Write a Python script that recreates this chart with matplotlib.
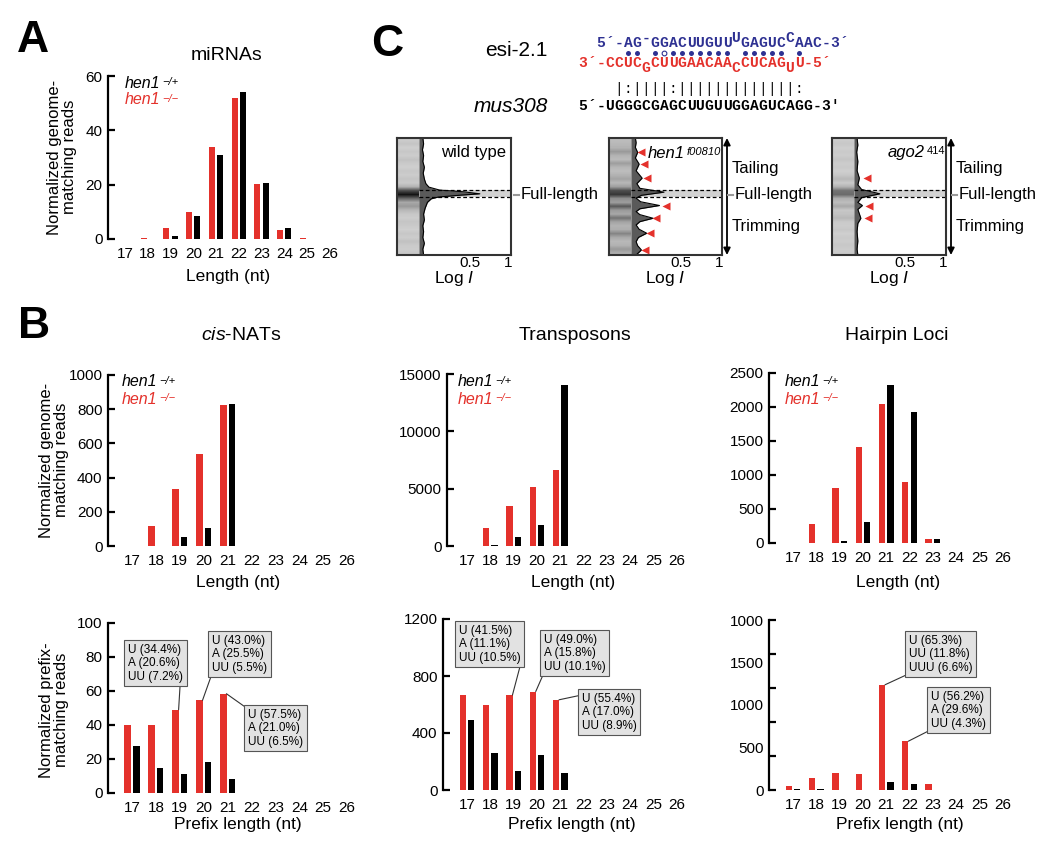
import matplotlib
matplotlib.use('Agg')
import matplotlib.pyplot as plt
import numpy as np

plt.rcParams['font.family'] = ['Liberation Sans', 'DejaVu Sans']
plt.rcParams['mathtext.fontset'] = 'custom'
plt.rcParams['mathtext.rm'] = 'Liberation Sans'
plt.rcParams['mathtext.it'] = 'Liberation Sans:italic'
plt.rcParams['mathtext.bf'] = 'Liberation Sans:bold'

RED = '#e4312b'
BLUE = '#2e3192'

# ---------------- data ----------------
lengths = np.arange(17, 27)
length_labels = [str(n) for n in lengths]

# A: miRNAs (hen1 -/+ black, hen1 -/- red)
mirna_het = [0, 0, 1.2, 8.3, 31, 54.2, 20.7, 4.0, 0, 0]
mirna_mut = [0, 0.5, 4.0, 9.8, 34, 52, 20.3, 3.4, 0.4, 0]

# B top: genome-matching reads
nat_het = [0, 0, 55, 107, 828, 0, 0, 0, 0, 0]
nat_mut = [0, 117, 333, 538, 825, 0, 0, 0, 0, 0]
tn_het = [0, 50, 786, 1864, 14070, 0, 0, 0, 0, 0]
tn_mut = [0, 1600, 3520, 5180, 6640, 0, 0, 0, 0, 0]
hp_het = [0, 0, 25, 305, 2322, 1924, 64, 0, 0, 0]
hp_mut = [0, 276, 812, 1417, 2037, 900, 64, 0, 0, 0]

# B bottom: prefix-matching reads
nat_pre_het = [27.5, 14.9, 11, 18.4, 8.4, 0, 0, 0, 0, 0]
nat_pre_mut = [39.8, 40.2, 49, 54.5, 58.4, 0, 0, 0, 0, 0]
tn_pre_het = [488, 258, 136, 244, 117, 0, 0, 0, 0, 0]
tn_pre_mut = [666, 593, 666, 691, 633, 0, 0, 0, 0, 0]
hp_pre_het = [8, 8, 0, 0, 94, 70, 0, 0, 0, 0]
hp_pre_mut = [47, 137, 203, 184, 1238, 574, 70, 0, 0, 0]
hp_pre_ylabels = ['0', '500', '1000', '1500', '1000']

nat_notes = [(19, 'U (34.4%)\nA (20.6%)\nUU (7.2%)'),
             (20, 'U (43.0%)\nA (25.5%)\nUU (5.5%)'),
             (21, 'U (57.5%)\nA (21.0%)\nUU (6.5%)')]
tn_notes = [(19, 'U (41.5%)\nA (11.1%)\nUU (10.5%)'),
            (20, 'U (49.0%)\nA (15.8%)\nUU (10.1%)'),
            (21, 'U (55.4%)\nA (17.0%)\nUU (8.9%)')]
hp_notes = [(21, 'U (65.3%)\nUU (11.8%)\nUUU (6.6%)'),
            (22, 'U (56.2%)\nA (29.6%)\nUU (4.3%)')]

# C: sequences (^ raised, _ lowered)
esi_seq = "5´-AG^-GGACUUGUU^UGAGUC^CAAC-3´"
esi_star = "3´-CCUC_GCUUGAACAA_CCUCAG_UU-5´"
mus_seq = "5´-UGGGCGAGCUUGUUGGAGUCAGG-3′"
esi_pairs = "   ** *o******* ***** *"   # * pair, o G:U wobble
mus_pairs = "    |:||||:|||||||||||||:"

# C: gel lanes (0 = top of lane, 1 = bottom)
wt_gel = [0.80, 0.77, 0.81, 0.78, 0.80, 0.76, 0.79, 0.81, 0.78, 0.80, 0.77, 0.79, 0.70, 0.30, 0.08,
          0.40, 0.66, 0.60, 0.72, 0.78, 0.80, 0.77, 0.79, 0.81, 0.78, 0.80, 0.76, 0.79, 0.80, 0.78]
hen1_gel = [0.74, 0.72, 0.70, 0.60, 0.70, 0.73, 0.62, 0.71, 0.74, 0.70, 0.64, 0.72, 0.62, 0.30, 0.22,
            0.55, 0.62, 0.35, 0.60, 0.66, 0.45, 0.64, 0.70, 0.68, 0.52, 0.66, 0.72, 0.70, 0.60, 0.68]
ago2_gel = [0.80, 0.78, 0.81, 0.79, 0.80, 0.77, 0.80, 0.79, 0.81, 0.78, 0.72, 0.79, 0.70, 0.45, 0.42,
            0.68, 0.74, 0.66, 0.78, 0.76, 0.72, 0.79, 0.80, 0.78, 0.81, 0.79, 0.80, 0.78, 0.80, 0.79]

wt_y = [0.0, 0.05, 0.1, 0.15, 0.2, 0.25, 0.3, 0.35, 0.39, 0.42, 0.445, 0.46, 0.477, 0.49, 0.505, 0.52,
        0.55, 0.6, 0.65, 0.7, 0.75, 0.8, 0.85, 0.9, 0.95, 1.0]
wt_x = [-0.12, -0.11, -0.125, -0.11, -0.12, -0.1, -0.115, -0.1, -0.08, -0.04, 0.1, 0.42, 0.63, 0.35, 0.08,
        -0.01, -0.06, -0.09, -0.11, -0.1, -0.12, -0.11, -0.12, -0.1, -0.12, -0.11]
hen1_y = [0.0, 0.04, 0.08, 0.123, 0.17, 0.223, 0.28, 0.343, 0.39, 0.43, 0.463, 0.49, 0.514, 0.545, 0.577,
          0.605, 0.629, 0.655, 0.686, 0.715, 0.743, 0.78, 0.814, 0.85, 0.886, 0.92, 0.957, 1.0]
hen1_x = [-0.11, -0.1, -0.11, -0.08, -0.11, -0.06, -0.1, -0.02, -0.09, -0.05, 0.27, -0.03, -0.1, -0.04, 0.21,
          -0.05, -0.1, -0.05, 0.125, -0.05, -0.1, -0.06, 0.04, -0.07, -0.1, -0.08, -0.03, -0.1]
ago2_y = [0.0, 0.06, 0.12, 0.2, 0.28, 0.343, 0.4, 0.44, 0.477, 0.51, 0.55, 0.577, 0.61, 0.686, 0.73, 0.8,
          0.88, 0.95, 1.0]
ago2_x = [-0.13, -0.12, -0.135, -0.12, -0.13, -0.1, -0.12, -0.07, 0.17, -0.07, -0.12, -0.06, -0.12, -0.08,
          -0.12, -0.13, -0.12, -0.13, -0.12]
hen1_tri_x = [-0.03, 0.0, 0.05, 0.3, 0.17, 0.09, 0.02]
hen1_tri_y = [0.123, 0.223, 0.343, 0.577, 0.686, 0.814, 0.957]
ago2_tri_x = [0.0, 0.03, 0.02]
ago2_tri_y = [0.343, 0.577, 0.686]
full_length_band = [0.443, 0.506]

# ---------------- layout ----------------
W, H = 1050, 844
fig = plt.figure(figsize=(W / 100, H / 100), dpi=100)


def rect(x0, y0, x1, y1):
    return [x0 / W, 1 - y1 / H, (x1 - x0) / W, (y1 - y0) / H]


def put(x, y, s, **kw):
    return fig.text(x / W, 1 - y / H, s, **kw)


def with_sup(ax, x, y, base, sup, color='black', size=11.5, sup_size=8, sup_style='italic'):
    t = put(x, y, base, fontsize=size, style='italic', color=color, va='center')
    ax.annotate(sup, xy=(1, 1), xycoords=t, xytext=(1.2, -0.8), textcoords='offset points',
                fontsize=sup_size, style=sup_style, color=color, va='top', ha='left',
                annotation_clip=False)
    return t


def bar_panel(spine_x, top, bottom, x17, spacing, ymax, mut, het, yticks):
    left = 17 - (x17 - spine_x) / spacing
    span = 10.7
    ax = fig.add_axes(rect(spine_x, top, spine_x + span * spacing, bottom))
    ax.bar(lengths - 0.18, mut, width=0.27, color=RED)
    ax.bar(lengths + 0.18, het, width=0.27, color='black')
    ax.set_xlim(left, left + span)
    ax.set_ylim(0, ymax)
    ax.set_xticks(lengths, length_labels)
    ax.set_yticks(yticks)
    for s in ['top', 'right', 'bottom']:
        ax.spines[s].set_visible(False)
    ax.spines['left'].set_linewidth(1.6)
    ax.tick_params(axis='y', direction='in', length=5, width=1.6, labelsize=11, pad=4)
    ax.tick_params(axis='x', length=0, labelsize=11, pad=6)
    ax.patch.set_alpha(0)
    return ax


def legend(ax, x, y):
    with_sup(ax, x, y, 'hen1', '\u2212/+')
    with_sup(ax, x, y + 17, 'hen1', '\u2212/\u2212', color=RED)


def note(ax, n, value, text, bx, by, relpos):
    ax.annotate(text, xy=(n - 0.18 + 0.13, value), xycoords='data',
                xytext=(bx + 4, H - by - 4), textcoords='figure pixels',
                ha='left', va='top', fontsize=8.5, linespacing=1.15,
                bbox=dict(boxstyle='square,pad=0.3', fc='#e2e2e2', ec='#555555', lw=0.8),
                arrowprops=dict(arrowstyle='-', color='#333333', lw=0.8, relpos=relpos,
                                shrinkA=0, shrinkB=0))


# Panel A
axA = bar_panel(108, 76, 239, 125, 22.75, 60, mirna_mut, mirna_het, [0, 20, 40, 60])
legend(axA, 125, 83)
put(227, 55, 'miRNAs', fontsize=14, ha='center', va='center')
put(228, 277, 'Length (nt)', fontsize=12.5, ha='center', va='center')
put(62, 157, 'Normalized genome-\nmatching reads', fontsize=12, rotation=90,
    ha='center', va='center', linespacing=0.95)
put(33, 41, 'A', fontsize=32, fontweight='bold', ha='center', va='center')

# Panel B top
ax1 = bar_panel(108, 375, 546, 132, 23.9, 1000, nat_mut, nat_het, np.arange(0, 1001, 200))
ax2 = bar_panel(447, 374, 546, 467, 23.3, 15000, tn_mut, tn_het, [0, 5000, 10000, 15000])
ax3 = bar_panel(769, 373, 543, 793, 23.3, 2500, hp_mut, hp_het, np.arange(0, 2501, 500))
legend(ax1, 122, 382)
legend(ax2, 458, 382)
legend(ax3, 785, 382)
put(241, 335, r'$\mathit{cis}$-NATs', fontsize=14, ha='center', va='center')
put(575, 335, 'Transposons', fontsize=14, ha='center', va='center')
put(897, 335, 'Hairpin Loci', fontsize=14, ha='center', va='center')
for cx in [238, 573, 898]:
    put(cx, 583, 'Length (nt)', fontsize=12.5, ha='center', va='center')
put(54, 460, 'Normalized genome-\nmatching reads', fontsize=12, rotation=90,
    ha='center', va='center', linespacing=0.95)
put(34, 326, 'B', fontsize=32, fontweight='bold', ha='center', va='center')

# Panel B bottom
ax4 = bar_panel(108, 623, 793, 132, 23.9, 100, nat_pre_mut, nat_pre_het, np.arange(0, 101, 20))
ax5 = bar_panel(443, 619, 790, 467, 23.3, 1200, tn_pre_mut, tn_pre_het, [0, 400, 800, 1200])
ax6 = bar_panel(769, 620, 790, 793, 23.3, 2000, hp_pre_mut, hp_pre_het, np.arange(0, 2001, 400))
ax6.yaxis.remove_overlapping_locs = False
ax6.set_yticklabels([])
ax6.set_yticks([0, 500, 1000, 1500, 2000], hp_pre_ylabels, minor=True)
ax6.tick_params(axis='y', which='minor', length=0, labelsize=11, pad=4)
for cx in [238, 572, 900]:
    put(cx, 825, 'Prefix length (nt)', fontsize=12.5, ha='center', va='center')
put(54, 710, 'Normalized prefix-\nmatching reads', fontsize=12, rotation=90,
    ha='center', va='center', linespacing=0.95)

nat_boxes = [(124, 640, (0.95, 0)), (208, 631, (0, 0)), (244, 705, (0, 1))]
tn_boxes = [(455, 621, (1, 0)), (540, 630, (0, 0)), (578, 689, (0, 0.95))]
hp_boxes = [(905, 631, (0, 0)), (927, 687, (0, 0))]
for ax, notes, boxes, vals in [(ax4, nat_notes, nat_boxes, nat_pre_mut),
                               (ax5, tn_notes, tn_boxes, tn_pre_mut),
                               (ax6, hp_notes, hp_boxes, hp_pre_mut)]:
    for (n, txt), (bx, by, rp) in zip(notes, boxes):
        note(ax, n, vals[n - 17], txt, bx, by, rp)

# Panel C: sequences
put(387, 45, 'C', fontsize=32, fontweight='bold', ha='center', va='center')
put(548, 50, 'esi-2.1', fontsize=15, ha='right', va='center')
put(548, 106, 'mus308', fontsize=15, ha='right', va='center', style='italic')

CW = 9.0
X0 = 583


def draw_seq(marked, col0, y, color, weight='bold'):
    col, shift = col0, 0
    for ch in marked:
        if ch == '^':
            shift = 5
            continue
        if ch == '_':
            shift = -5
            continue
        put(X0 + col * CW, y - shift, ch, fontsize=10.5, color=color, ha='center', va='center',
            family=['Liberation Mono', 'DejaVu Sans Mono'], fontweight=weight)
        col += 1
        shift = 0


draw_seq(esi_seq, 2, 43, BLUE)
draw_seq(esi_star, 0, 63, RED)
draw_seq(mus_seq, 0, 106, 'black')
for i, ch in enumerate(mus_pairs):
    if ch != ' ':
        put(X0 + i * CW, 89, ch, fontsize=10.5, color='black', ha='center', va='center',
            family=['Liberation Mono', 'DejaVu Sans Mono'])

# base-pair dots between the esi-2.1 strands
ax_dots = fig.add_axes([0, 0, 1, 1], zorder=-1)
ax_dots.set_xlim(0, W)
ax_dots.set_ylim(H, 0)
ax_dots.axis('off')
cols = np.arange(len(esi_pairs)) + 2
pair_chars = np.array(list(esi_pairs))
ax_dots.plot(X0 + cols[pair_chars == '*'] * CW, np.full((pair_chars == '*').sum(), 53), 'o',
             ms=3.6, color=BLUE, mec='none')
ax_dots.plot(X0 + cols[pair_chars == 'o'] * CW, np.full((pair_chars == 'o').sum(), 53), 'o',
             ms=3.4, mfc='white', mec=BLUE, mew=0.8)

# Panel C: gel lanes
gel_x = [(397, 511), (609, 722), (832, 946)]
lanes = [wt_gel, hen1_gel, ago2_gel]
profiles = [(wt_x, wt_y), (hen1_x, hen1_y), (ago2_x, ago2_y)]
tris = [([], []), (hen1_tri_x, hen1_tri_y), (ago2_tri_x, ago2_tri_y)]
edge = -0.17
gel_axes = []
for k in range(3):
    x0, x1 = gel_x[k]
    ax = fig.add_axes(rect(x0, 138, x1, 255))
    gel_axes.append(ax)
    ax.set_xlim(-0.46, 1.04)
    ax.set_ylim(1, 0)
    ax.imshow(np.array(lanes[k])[:, None], extent=(-0.46, edge, 1, 0), cmap='gray',
              vmin=0, vmax=1, aspect='auto', interpolation='bilinear')
    ax.fill_between([edge, 1.04], full_length_band[0], full_length_band[1], color='#d2d2d2', lw=0)
    ax.hlines(full_length_band, edge, 1.04, colors='black', linestyles=(0, (3, 2)), lw=0.9)
    px, py = profiles[k]
    ax.fill_betweenx(py, edge, px, color='#5a5a5a', lw=0)
    ax.plot(px, py, color='black', lw=0.8)
    if tris[k][0]:
        ax.plot(tris[k][0], tris[k][1], '<', color=RED, ms=6, mec='none')
    ax.set_xticks([0.5, 1], ['0.5', '1'])
    ax.set_yticks([])
    ax.tick_params(axis='x', length=0, labelsize=11, pad=1)
    ax.set_xlabel(r'Log $\mathit{I}$', fontsize=12.5, labelpad=-1)
    for s in ax.spines.values():
        s.set_linewidth(1.5)
        s.set_color('#333333')
    # full-length marker outside the box
    gx = x1 + 6 if k == 0 else x1 + 9
    fig.add_artist(plt.Line2D([(gx - 3) / W, (gx + 2) / W], [1 - 195 / H, 1 - 195 / H],
                              color='#999999', lw=1.5))
    put(gx + 4, 195, 'Full-length', fontsize=12, va='center')
    if k > 0:
        ax.annotate('', xy=(x1 + 5, H - 138), xycoords='figure pixels',
                    xytext=(x1 + 5, H - 255), textcoords='figure pixels',
                    arrowprops=dict(arrowstyle='<|-|>', color='black', lw=1.3,
                                    mutation_scale=10, shrinkA=0, shrinkB=0))
        put(x1 + 10, 168, 'Tailing', fontsize=12, va='center')
        put(x1 + 10, 227, 'Trimming', fontsize=12, va='center')

put(506, 153, 'wild type', fontsize=12, ha='right', va='center')
with_sup(gel_axes[1], 648, 153, 'hen1', 'f00810', size=12, sup_size=8)
with_sup(gel_axes[2], 888, 152, 'ago2', '414', size=12, sup_size=8, sup_style='normal')

fig.savefig('out.png', dpi=100)
